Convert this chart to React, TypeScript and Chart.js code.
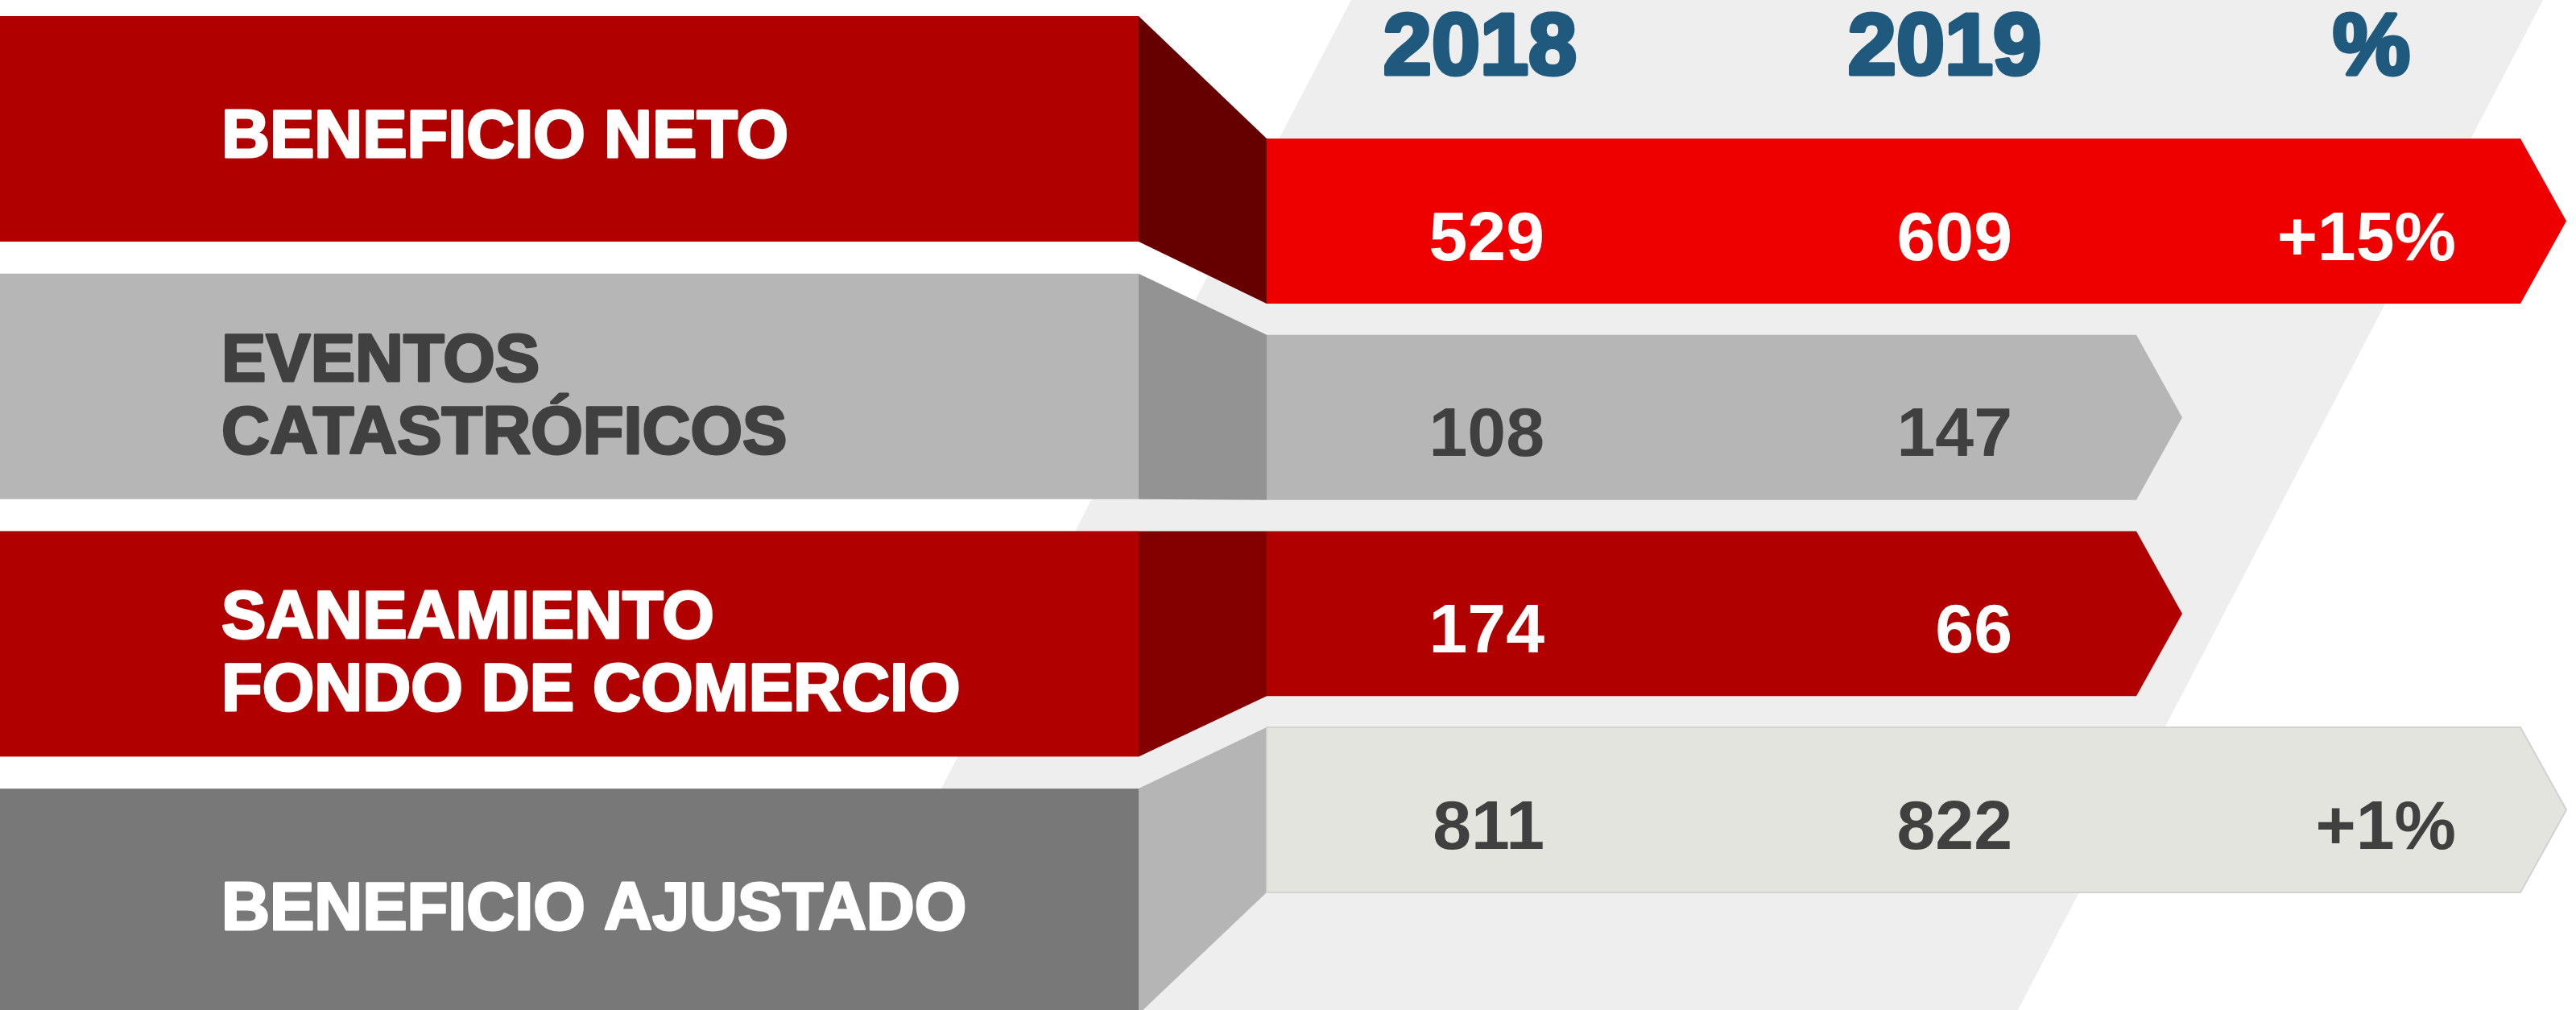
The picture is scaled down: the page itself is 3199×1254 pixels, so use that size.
import React, { useEffect, useRef } from 'react';
import { Chart, registerables } from 'chart.js';

Chart.register(...registerables);

// ---------- DATA ----------
const CATEGORIES: string[][] = [
  ['BENEFICIO NETO'],
  ['EVENTOS', 'CATASTRÓFICOS'],
  ['SANEAMIENTO', 'FONDO DE COMERCIO'],
  ['BENEFICIO AJUSTADO'],
];
const COLUMN_HEADERS = ['2018', '2019', '%'];
const VALUES_2018 = [529, 108, 174, 811];
const VALUES_2019 = [609, 147, 66, 822];
const PCT_CHANGE: (number | null)[] = [15, null, null, 1];

// ---------- LAYOUT (pixel units of the x scale, 1:1 with canvas) ----------
const W = 3199;
const H = 1254;
const BAR_START = 1573;
const BAR_END_LONG = 3130;
const BAR_END_SHORT = 2653;
const TIP = 57;
const BOX_RIGHT = 1414;
// label boxes, expressed in units of the category row spacing
const BOX_CENTER_OFFSET = -0.47;
const BOX_PITCH = 1.312;
const BOX_HALF = 0.5745;
const LABEL_X = 275;
const HEADER_X = [1838, 2415, 2945];
const HEADER_BASELINE = 92;
const VALUE_RIGHT = [1918, 2499, 3050];
const VALUE_OFFSET = 48;
const BAND_LEFT_TOP = 1678;
const BAND_RIGHT_TOP = 3158;
const BAND_SLOPE = 0.52;

// ---------- STYLES ----------
const ROW_STYLES = [
  { box: '#B00000', side: '#660000', bar: '#EE0000', label: '#FFFFFF', value: '#FFFFFF', border: '' },
  { box: '#B6B6B6', side: '#939393', bar: '#B6B6B6', label: '#404040', value: '#404040', border: '' },
  { box: '#B00000', side: '#840000', bar: '#B00000', label: '#FFFFFF', value: '#FFFFFF', border: '' },
  { box: '#787878', side: '#B5B5B5', bar: '#E4E4DE', label: '#FFFFFF', value: '#404040', border: '#D2D2D2' },
];
const HEADER_COLOR = '#1F5A7E';
const BAND_COLOR = '#EEEEEE';
const FONT = '"Liberation Sans", Arial, sans-serif';

function heavyText(ctx: CanvasRenderingContext2D, text: string, x: number, y: number, color: string, stroke: number) {
  ctx.fillStyle = color;
  if (stroke > 0) {
    ctx.strokeStyle = color;
    ctx.lineWidth = stroke;
    ctx.lineJoin = 'round';
    ctx.strokeText(text, x, y);
  }
  ctx.fillText(text, x, y);
}

const infographicPlugin = {
  id: 'infographic',
  beforeDatasetsDraw(chart: any) {
    const ctx: CanvasRenderingContext2D = chart.ctx;
    const xs = chart.scales.x;
    ctx.save();
    ctx.fillStyle = BAND_COLOR;
    ctx.beginPath();
    ctx.moveTo(xs.getPixelForValue(BAND_LEFT_TOP), 0);
    ctx.lineTo(xs.getPixelForValue(BAND_RIGHT_TOP), 0);
    ctx.lineTo(xs.getPixelForValue(BAND_RIGHT_TOP - BAND_SLOPE * H), H);
    ctx.lineTo(xs.getPixelForValue(BAND_LEFT_TOP - BAND_SLOPE * H), H);
    ctx.closePath();
    ctx.fill();
    ctx.restore();
  },
  afterDatasetsDraw(chart: any) {
    const ctx: CanvasRenderingContext2D = chart.ctx;
    const xs = chart.scales.x;
    const ys = chart.scales.y;
    const meta = chart.getDatasetMeta(0);
    const y0 = ys.getPixelForValue(0);
    const step = ys.getPixelForValue(1) - y0;
    ctx.save();
    const boxLeft = xs.getPixelForValue(0);
    const boxRight = xs.getPixelForValue(BOX_RIGHT);

    CATEGORIES.forEach((lines, i) => {
      const st = ROW_STYLES[i];
      const bar: any = meta.data[i];
      const top = bar.y - bar.height / 2;
      const bottom = bar.y + bar.height / 2;
      const start = Math.min(bar.base, bar.x);
      const end = Math.max(bar.base, bar.x);
      const bc = y0 + (BOX_CENTER_OFFSET + i * BOX_PITCH) * step;
      const bTop = bc - BOX_HALF * step;
      const bBottom = bc + BOX_HALF * step;

      // label box
      ctx.fillStyle = st.box;
      ctx.fillRect(boxLeft, bTop, boxRight - boxLeft, bBottom - bTop);

      // side wedge
      ctx.fillStyle = st.side;
      ctx.beginPath();
      ctx.moveTo(boxRight, bTop);
      ctx.lineTo(start, top);
      ctx.lineTo(start, bottom);
      ctx.lineTo(boxRight, bBottom);
      ctx.closePath();
      ctx.fill();

      // arrow bar
      ctx.beginPath();
      ctx.moveTo(start, top);
      ctx.lineTo(end, top);
      ctx.lineTo(end + TIP, bar.y);
      ctx.lineTo(end, bottom);
      ctx.lineTo(start, bottom);
      ctx.closePath();
      ctx.fillStyle = st.bar;
      ctx.fill();
      if (st.border) {
        ctx.strokeStyle = st.border;
        ctx.lineWidth = 2;
        ctx.stroke();
      }

      // labels
      ctx.font = `bold 83px ${FONT}`;
      ctx.textAlign = 'left';
      ctx.textBaseline = 'alphabetic';
      if (lines.length === 1) {
        heavyText(ctx, lines[0], LABEL_X, bc + 35, st.label, 3);
      } else {
        heavyText(ctx, lines[0], LABEL_X, bc - 7, st.label, 3);
        heavyText(ctx, lines[1], LABEL_X, bc + 83, st.label, 3);
      }

      // values
      ctx.font = `bold 86px ${FONT}`;
      ctx.textAlign = 'right';
      const vy = bar.y + VALUE_OFFSET;
      heavyText(ctx, String(VALUES_2018[i]), xs.getPixelForValue(VALUE_RIGHT[0]), vy, st.value, 0);
      heavyText(ctx, String(VALUES_2019[i]), xs.getPixelForValue(VALUE_RIGHT[1]), vy, st.value, 0);
      const p = PCT_CHANGE[i];
      if (p !== null) {
        heavyText(ctx, `${p >= 0 ? '+' : ''}${p}%`, xs.getPixelForValue(VALUE_RIGHT[2]), vy, st.value, 0);
      }
    });

    // column headers
    ctx.font = `bold 108px ${FONT}`;
    ctx.textAlign = 'center';
    ctx.textBaseline = 'alphabetic';
    COLUMN_HEADERS.forEach((h, j) => {
      heavyText(ctx, h, xs.getPixelForValue(HEADER_X[j]), HEADER_BASELINE, HEADER_COLOR, 5);
    });
    ctx.restore();
  },
};

export default function App() {
  const ref = useRef<HTMLCanvasElement | null>(null);
  useEffect(() => {
    document.body.style.margin = '0';
    document.body.style.overflow = 'hidden';
    const canvas = ref.current;
    if (!canvas) return;
    const chart = new Chart(canvas, {
      type: 'bar',
      data: {
        labels: CATEGORIES.map((l) => l.join(' ')),
        datasets: [
          {
            data: PCT_CHANGE.map((p) => [BAR_START, p === null ? BAR_END_SHORT : BAR_END_LONG]) as any,
            backgroundColor: 'rgba(0,0,0,0)',
            borderWidth: 0,
            barPercentage: 0.841,
            categoryPercentage: 1,
            xAxisID: 'x',
            yAxisID: 'y',
          },
        ],
      },
      options: {
        indexAxis: 'y',
        responsive: false,
        maintainAspectRatio: false,
        animation: false,
        devicePixelRatio: 1,
        events: [],
        layout: { padding: { top: 152.7, bottom: 126.6, left: 0, right: 0 } },
        scales: {
          x: { type: 'linear', min: 0, max: W, display: false },
          y: { type: 'category', display: false, offset: true },
        },
        plugins: {
          legend: { display: false },
          tooltip: { enabled: false },
          title: { display: false },
        },
      } as any,
      plugins: [infographicPlugin],
    });
    return () => chart.destroy();
  }, []);
  return (
    <canvas
      ref={ref}
      width={W}
      height={H}
      style={{ display: 'block', width: W, height: H, background: '#FFFFFF' }}
    />
  );
}
